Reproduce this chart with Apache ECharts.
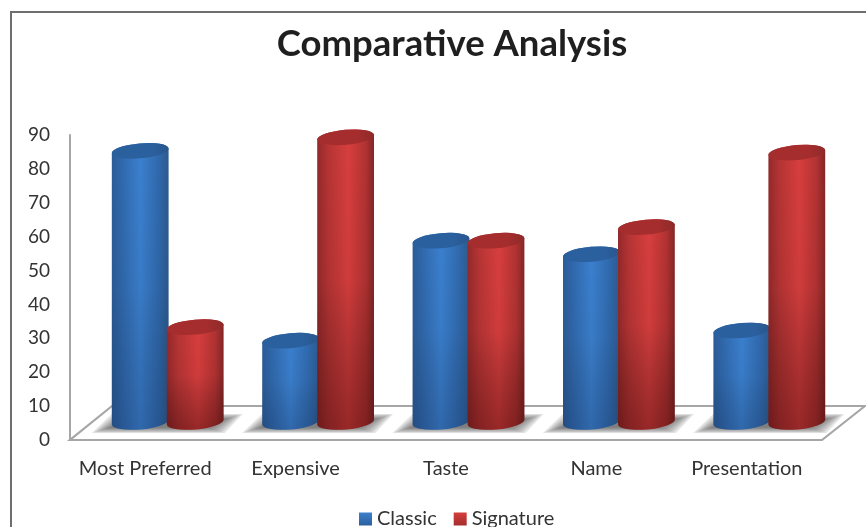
<!DOCTYPE html>
<html>
<head>
<meta charset="utf-8">
<style>html,body{margin:0;padding:0;background:#fff}#chart{width:866px;height:527px}</style>
<script src="https://cdn.jsdelivr.net/npm/echarts@6/dist/echarts.min.js"></script>
</head>
<body>
<div id="chart"></div>
<script>
// Survey scores for the two product variants
const categories = ['Most Preferred', 'Expensive', 'Taste', 'Name', 'Presentation'];
const classicValues = [80, 24, 53.5, 49.5, 27];
const signatureValues = [28, 84, 53.5, 57.5, 79.5];
const axisTicks = { min: 0, max: 90, interval: 10 };

const FONT = 'Lato, "Open Sans", sans-serif';
const TEXT = '#333333';
const LG = echarts.graphic.LinearGradient;

// Oblique projection of the floor: bars stand half way back
const FLOOR_DX = 42, FLOOR_DY = -34;
const BAR_DX = 22.5, BAR_DY = -18;
const RX = 28.5, RY = 7.5, TILT = 5;

const PALETTE = {
  classic: {
    body: [[0, '#2c5c98'], [0.18, '#3069ad'], [0.5, '#3b80cf'], [0.82, '#3069ad'], [1, '#2c5a8e']],
    cap: '#2b609f', capEdge: '#2a568c', legend: ['#3c80cc', '#2b5f9e'], shade: 'rgba(10,20,50,0.22)'
  },
  signature: {
    body: [[0, '#93292a'], [0.2, '#b63434'], [0.55, '#d83e3e'], [0.85, '#b23232'], [1, '#842626']],
    cap: '#a52d2d', capEdge: '#8f2a2a', legend: ['#d63e3e', '#a52d2d'], shade: 'rgba(40,0,0,0.36)'
  }
};

const stops = list => list.map(([offset, color]) => ({ offset, color }));

// One tilted cylinder built on the value axis scale
function cylinder(api, palette, side) {
  const i = api.value(0);
  const top = api.coord([i, api.value(1)]);
  const base = api.coord([i, 0]);
  const cx = top[0] + BAR_DX + side * 27.5;
  const topY = top[1] + BAR_DY;
  const baseY = base[1] + BAR_DY;
  const ex = RX * Math.cos(TILT * Math.PI / 180);
  const ey = RX * Math.sin(TILT * Math.PI / 180);
  const arc = `A ${RX} ${RY} ${-TILT} 0 0`;
  const body = `M ${cx - ex} ${topY + ey} L ${cx - ex} ${baseY + ey} ${arc} ${cx + ex} ${baseY - ey}` +
    ` L ${cx + ex} ${topY - ey} ${arc} ${cx - ex} ${topY + ey} Z`;
  const cap = `M ${cx - ex} ${topY + ey} ${arc} ${cx + ex} ${topY - ey} ${arc} ${cx - ex} ${topY + ey} Z`;
  return {
    type: 'group',
    children: [
      { type: 'path', shape: { pathData: body }, style: { fill: new LG(0, 0, 1, 0, stops(palette.body)) } },
      { type: 'path', shape: { pathData: body }, style: { fill: new LG(0, 0, 0, 1, [
        { offset: 0, color: 'rgba(0,0,0,0)' },
        { offset: 0.5, color: 'rgba(0,0,0,0.04)' },
        { offset: 1, color: palette.shade }
      ]) } },
      { type: 'path', shape: { pathData: cap }, style: { fill: new LG(0, 0, 1, 0, [
        { offset: 0, color: palette.cap },
        { offset: 0.7, color: palette.cap },
        { offset: 1, color: palette.capEdge }
      ]) } }
    ]
  };
}

// The floor plane under the bars
function renderFloor(params, api) {
  const sys = params.coordSys;
  const y = sys.y + sys.height;
  const left = sys.x, right = sys.x + sys.width;
  return {
    type: 'polygon',
    shape: { points: [[left, y], [right, y], [right + FLOOR_DX + 1, y + FLOOR_DY], [left + FLOOR_DX, y + FLOOR_DY]] },
    style: { fill: '#fff', stroke: '#a6a6a6', lineWidth: 2.2 }
  };
}

// Soft cast shadow under each pair of bars, stacked translucent layers fade its edge
function renderShadow(params, api) {
  const p = api.coord([api.value(0), 0]);
  const cx = p[0] + BAR_DX, y = p[1];
  const layers = [];
  for (let k = 0; k < 8; k++) {
    const inset = k * 2.6, v = k * 0.8;
    layers.push({
      type: 'polygon',
      shape: { points: [[cx - 76 + inset, y - 7 - v], [cx - 56 + inset, y - 26 + v], [cx + 75 - inset, y - 26 + v], [cx + 57 - inset, y - 7 - v]] },
      style: { fill: 'rgba(90,90,90,0.16)' }
    });
  }
  return { type: 'group', children: layers };
}

const indexed = values => values.map((v, i) => [i, v]);

const chart = echarts.init(document.getElementById('chart'));
chart.setOption({
  animation: false,
  backgroundColor: '#fff',
  title: {
    text: 'Comparative Analysis', left: 447, textAlign: 'center', top: 21,
    textStyle: { fontFamily: FONT, fontSize: 36.5, fontWeight: 'bold', color: '#1f1f1f' }
  },
  legend: {
    data: ['Classic', 'Signature'], left: 359, top: 509, padding: 0, icon: 'rect',
    itemWidth: 13, itemHeight: 13, itemGap: 17,
    textStyle: { fontFamily: FONT, fontSize: 20, color: TEXT }
  },
  grid: { left: 70, right: 44, top: 135, bottom: 87, containLabel: false },
  xAxis: {
    type: 'category', data: categories,
    axisLine: { show: false }, axisTick: { show: false },
    axisLabel: { margin: 19, fontFamily: FONT, fontSize: 20, color: TEXT, interval: 0 }
  },
  yAxis: {
    type: 'value', min: axisTicks.min, max: axisTicks.max, interval: axisTicks.interval,
    splitLine: { show: false }, axisTick: { show: false },
    axisLine: { show: true, lineStyle: { color: '#a6a6a6', width: 2 } },
    axisLabel: { margin: 20, fontFamily: FONT, fontSize: 19, color: TEXT }
  },
  graphic: [
    // Chart frame running off the right and bottom of the canvas
    { type: 'polyline', silent: true, z: 0, shape: { points: [[11, 527], [11, 12], [866, 12]] },
      style: { fill: null, stroke: '#6e6e6e', lineWidth: 2 } }
  ],
  series: [
    { type: 'custom', name: 'floor', silent: true, z: 1, data: [[0, 0]], renderItem: renderFloor, clip: false },
    { type: 'custom', name: 'shadow', silent: true, z: 2, data: indexed(classicValues), renderItem: renderShadow,
      encode: { x: 0, y: 1 }, clip: false },
    { type: 'custom', name: 'Classic', z: 3, data: indexed(classicValues), encode: { x: 0, y: 1 }, clip: false,
      itemStyle: { color: new LG(0, 0, 0, 1, [{ offset: 0, color: PALETTE.classic.legend[0] }, { offset: 1, color: PALETTE.classic.legend[1] }]) },
      renderItem: (params, api) => cylinder(api, PALETTE.classic, -1) },
    { type: 'custom', name: 'Signature', z: 4, data: indexed(signatureValues), encode: { x: 0, y: 1 }, clip: false,
      itemStyle: { color: new LG(0, 0, 0, 1, [{ offset: 0, color: PALETTE.signature.legend[0] }, { offset: 1, color: PALETTE.signature.legend[1] }]) },
      renderItem: (params, api) => cylinder(api, PALETTE.signature, 1) }
  ]
});
</script>
</body>
</html>
